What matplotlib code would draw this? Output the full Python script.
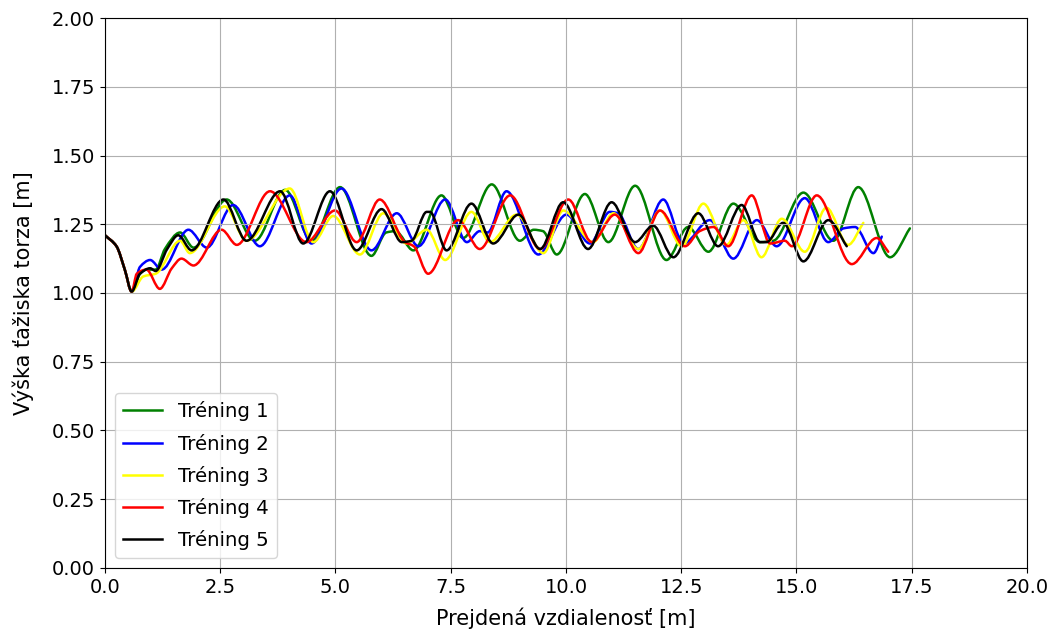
import numpy as np
import matplotlib.pyplot as plt
from matplotlib.path import Path
from matplotlib.patches import PathPatch
from matplotlib.lines import Line2D

# distance [m] / torso centre height [m] for each training run
x1 = [0.0, 0.25, 0.43, 0.58, 0.76, 0.9, 1.1, 1.3, 1.63, 1.92, 2.64, 3.25, 3.91, 4.48, 5.1,
      5.78, 6.1, 6.3, 6.69, 7.3, 7.77, 8.39, 9.0, 9.3, 9.5, 9.8, 10.41, 10.92, 11.5, 12.18,
      12.65, 13.09, 13.63, 14.21, 14.5, 15.15, 15.8, 16.34, 17.03, 17.46]
y1 = [1.21, 1.17, 1.085, 1.005, 1.07, 1.085, 1.085, 1.16, 1.22, 1.165, 1.34, 1.19, 1.375, 1.19, 1.385,
      1.135, 1.22, 1.225, 1.155, 1.355, 1.2, 1.395, 1.19, 1.23, 1.225, 1.14, 1.36, 1.185, 1.39, 1.12,
      1.24, 1.15, 1.325, 1.185, 1.19, 1.365, 1.19, 1.385, 1.13, 1.235]

x2 = [0.0, 0.25, 0.43, 0.58, 0.76, 0.98, 1.23, 1.81, 2.21, 2.78, 3.36, 4.01, 4.48, 5.13, 5.78,
      6.33, 6.8, 7.38, 7.85, 8.13, 8.3, 8.71, 9.4, 10.01, 10.52, 10.95, 11.13, 11.57, 12.11, 12.55,
      13.12, 13.63, 14.14, 14.57, 15.18, 15.69, 16.02, 16.27, 16.67, 16.85]
y2 = [1.21, 1.17, 1.085, 1.005, 1.095, 1.12, 1.085, 1.23, 1.165, 1.32, 1.17, 1.355, 1.18, 1.38, 1.155,
      1.29, 1.17, 1.34, 1.185, 1.225, 1.22, 1.37, 1.14, 1.285, 1.18, 1.295, 1.29, 1.16, 1.34, 1.18,
      1.265, 1.125, 1.265, 1.17, 1.345, 1.185, 1.235, 1.24, 1.145, 1.205]

x3 = [0.0, 0.25, 0.43, 0.58, 0.83, 1.1, 1.63, 1.84, 2.6, 3.07, 4.01, 4.52, 4.95, 5.53, 6.04,
      6.54, 6.98, 7.38, 7.95, 8.35, 8.93, 9.51, 9.94, 10.59, 11.03, 11.57, 12.04, 12.51, 12.98, 13.48,
      13.85, 14.24, 14.68, 15.18, 15.65, 16.12, 16.45]
y3 = [1.21, 1.17, 1.085, 1.005, 1.06, 1.07, 1.19, 1.145, 1.315, 1.19, 1.38, 1.185, 1.28, 1.14, 1.29,
      1.18, 1.23, 1.12, 1.295, 1.185, 1.285, 1.145, 1.3, 1.185, 1.29, 1.16, 1.3, 1.17, 1.325, 1.175,
      1.265, 1.13, 1.27, 1.15, 1.31, 1.175, 1.255]

x4 = [0.0, 0.25, 0.43, 0.58, 0.69, 0.9, 1.19, 1.45, 1.66, 1.92, 2.53, 2.86, 3.58, 4.37, 4.99,
      5.46, 5.96, 6.51, 6.7, 7.01, 7.66, 8.13, 8.79, 9.44, 10.05, 10.56, 11.06, 11.57, 12.04, 12.58,
      12.9, 13.2, 13.52, 14.03, 14.43, 14.75, 14.9, 15.44, 16.2, 16.74, 16.99]
y4 = [1.21, 1.17, 1.085, 1.005, 1.07, 1.085, 1.015, 1.09, 1.125, 1.1, 1.23, 1.175, 1.37, 1.185, 1.3,
      1.185, 1.34, 1.185, 1.17, 1.07, 1.265, 1.16, 1.355, 1.16, 1.34, 1.185, 1.285, 1.145, 1.3, 1.17,
      1.225, 1.24, 1.17, 1.355, 1.18, 1.19, 1.17, 1.355, 1.105, 1.2, 1.15]

x5 = [0.0, 0.25, 0.43, 0.58, 0.76, 0.98, 1.1, 1.35, 1.59, 1.88, 2.57, 3.07, 3.8, 4.3, 4.88,
      5.46, 6.0, 6.44, 6.65, 6.98, 7.05, 7.41, 7.95, 8.42, 8.97, 9.44, 9.94, 10.48, 10.99, 11.5,
      11.89, 12.33, 12.87, 13.3, 13.81, 14.21, 14.35, 14.71, 15.15, 15.69, 16.09]
y5 = [1.21, 1.17, 1.085, 1.005, 1.07, 1.09, 1.08, 1.16, 1.21, 1.155, 1.34, 1.19, 1.37, 1.18, 1.37,
      1.155, 1.305, 1.185, 1.19, 1.295, 1.295, 1.155, 1.325, 1.18, 1.285, 1.16, 1.33, 1.16, 1.33, 1.185,
      1.245, 1.13, 1.29, 1.17, 1.32, 1.185, 1.185, 1.255, 1.115, 1.265, 1.17]

colors = ["green", "blue", "yellow", "red", "black"]
labels = ["Tréning 1", "Tréning 2", "Tréning 3", "Tréning 4", "Tréning 5"]


def smooth_path(x, y):
    """Bezier path through the samples, monotone (Fritsch-Carlson) tangents."""
    x = np.asarray(x, float)
    y = np.asarray(y, float)
    h = np.diff(x)
    d = np.diff(y) / h
    m = np.zeros_like(y)
    m[0], m[-1] = d[0], d[-1]
    for k in range(1, len(x) - 1):
        if d[k - 1] * d[k] > 0:
            w1 = 2 * h[k] + h[k - 1]
            w2 = h[k] + 2 * h[k - 1]
            m[k] = (w1 + w2) / (w1 / d[k - 1] + w2 / d[k])
    verts = [(x[0], y[0])]
    codes = [Path.MOVETO]
    for k in range(len(h)):
        t = h[k] / 3
        verts += [(x[k] + t, y[k] + m[k] * t),
                  (x[k + 1] - t, y[k + 1] - m[k + 1] * t),
                  (x[k + 1], y[k + 1])]
        codes += [Path.CURVE4] * 3
    return Path(verts, codes)


fig, ax = plt.subplots(figsize=(10.57, 6.32), dpi=100)
fig.subplots_adjust(left=0.0993, right=0.9716, top=0.9715, bottom=0.1013)

handles = []
for x, y, c, lab in zip([x1, x2, x3, x4, x5], [y1, y2, y3, y4, y5], colors, labels):
    ax.add_patch(PathPatch(smooth_path(x, y), facecolor="none", edgecolor=c,
                           linewidth=1.8, capstyle="round", joinstyle="round"))
    handles.append(Line2D([], [], color=c, linewidth=1.8, label=lab))

ax.set_xlim(0, 20)
ax.set_ylim(0, 2)
ax.set_xticks([0, 2.5, 5, 7.5, 10, 12.5, 15, 17.5, 20])
ax.set_yticks([0, 0.25, 0.5, 0.75, 1.0, 1.25, 1.5, 1.75, 2.0])
ax.tick_params(labelsize=14)
ax.set_xlabel("Prejdená vzdialenosť [m]", fontsize=15, labelpad=8)
ax.set_ylabel("Výška ťažiska torza [m]", fontsize=15, labelpad=13)
ax.grid(True)
ax.legend(handles=handles, loc="lower left", fontsize=14.2, labelspacing=0.62)

fig.savefig("out.png", dpi=100)
